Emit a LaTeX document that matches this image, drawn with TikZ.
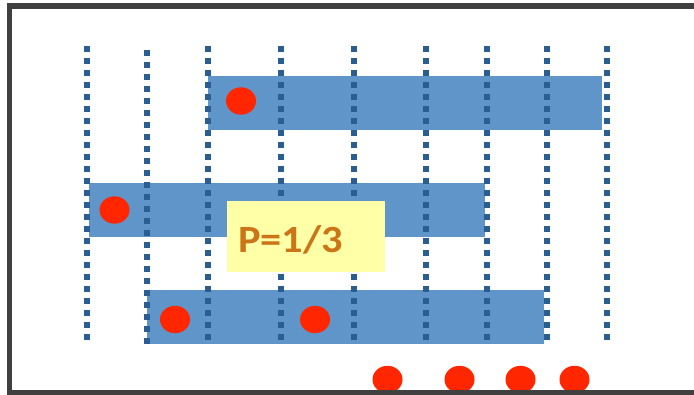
\documentclass[tikz,border=0pt]{standalone}
\usepackage{fontspec}
\newfontfamily\labelfont{Carlito}
\definecolor{framegray}{HTML}{404040}
\definecolor{barblue}{HTML}{5F95C8}
\definecolor{dotblue}{HTML}{2A5D92}
\definecolor{ballred}{HTML}{FF2600}
\definecolor{noteyellow}{HTML}{FFFFA8}
\definecolor{noteorange}{HTML}{CC7418}
\tikzset{
  bar/.style={fill=barblue, draw=none},
  ball/.style={fill=ballred, draw=none},
  sq/.style={fill=dotblue, draw=none},
  note/.style={fill=noteyellow, draw=none},
}
\begin{document}
\begin{tikzpicture}[x=1pt,y=-1pt]
\useasboundingbox (0,0) rectangle (694,395);
\fill[white] (0,0) rectangle (694,395);
% bars
\path[bar] (208,76) rectangle (602,130);
\path[bar] (89,183) rectangle (485,237);
\path[bar] (147,290) rectangle (544,344);
% red balls
\foreach \cx/\cy in {241/101, 114.5/210, 175/319.5, 315/319.5, 387.5/379.5, 459.5/379.5, 520.5/379.5, 574.5/379.5}
  \fill[ballred] (\cx,\cy) ellipse [x radius=15, y radius=13.7];
% dotted columns
\foreach \cx/\sy in {87/49, 147/53, 208/49, 281/49, 354/49, 426/49, 487/49, 547/49, 607/49}
  \foreach \k in {0,...,24}
    \path[sq] ({\cx-2.8},{\sy+12*\k-2.8}) rectangle ++(5.6,5.6);
% note
\path[note] (227,201) rectangle (385,272);
\node[anchor=base west, inner sep=0pt, text=noteorange, font=\labelfont\bfseries\fontsize{38.5}{38.5}\selectfont] (p) at (238,252.5) {\scalebox{1.1}[1]{P=1/3}};
% frame
\draw[framegray, line width=5.5] (700,6) -- (9.5,6) -- (9.5,392.5) -- (700,392.5);
\end{tikzpicture}
\end{document}
